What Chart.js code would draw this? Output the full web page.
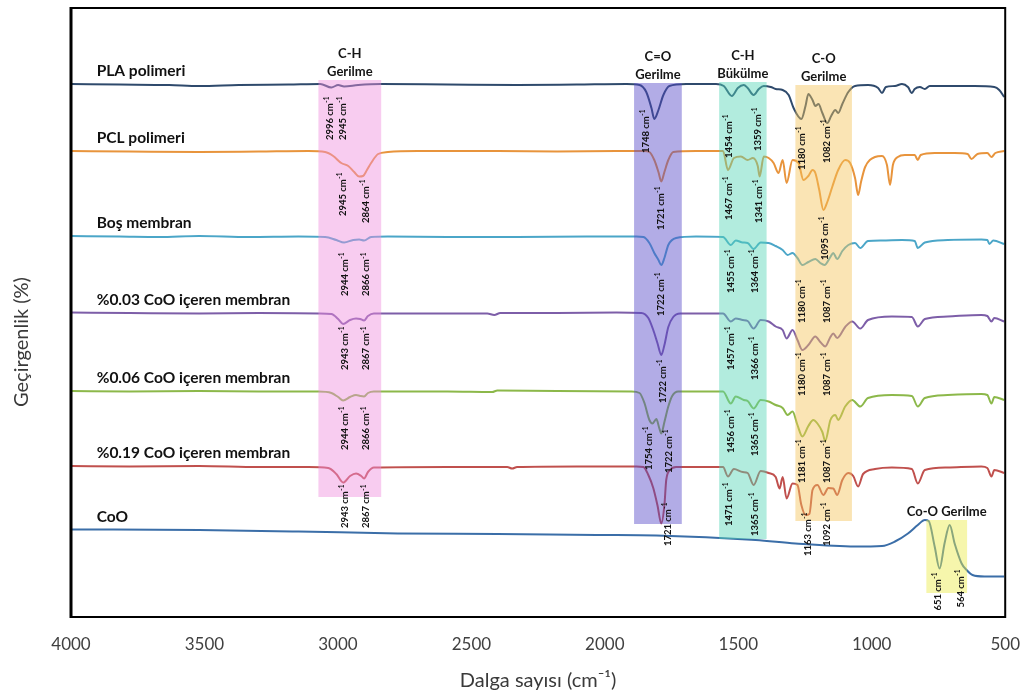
<!DOCTYPE html>
<html lang="tr">
<head>
<meta charset="utf-8">
<title>FTIR spektrumları</title>
<script src="https://cdn.jsdelivr.net/npm/chart.js@4.4.1/dist/chart.umd.min.js"></script>
<style>
  html, body { margin: 0; padding: 0; background: #fff; }
  #wrap { width: 1029px; height: 695px; }
</style>
</head>
<body>
<div id="wrap"><canvas id="ftirChart" width="1029" height="695"></canvas></div>
<script>
// tick labels of the wavenumber axis
const wavenumberTicks = [4000, 3500, 3000, 2500, 2000, 1500, 1000, 500];

const seriesNames = ['PLA polimeri', 'PCL polimeri', 'Boş membran', '%0.03 CoO içeren membran',
  '%0.06 CoO içeren membran', '%0.19 CoO içeren membran', 'CoO'];

// [wavenumber (cm-1), transmittance, stacked]
const plaSpectrum = [[4000,106.6],[3813,106.5],[3621,106.4],[3506,106.2],[3353,106.4],[3161,106.5],[3039,106.6],
  [2996,105.9],[2970,106.4],[2947,106.1],[2893,106.4],[2805,106.6],[2548,106.5],[2280,106.4],[2050,106.5],[1858,106.6],
  [1808,106.4],[1782,105.0],[1762,101.8],[1751,99.6],[1735,101.4],[1716,104.4],[1693,106.2],[1628,106.6],[1513,106.6],
  [1483,106.2],[1452,104.2],[1429,105.8],[1406,106.4],[1391,105.8],[1368,104.4],[1348,105.6],[1329,106.2],[1302,106.0],
  [1283,105.6],[1256,105.4],[1233,104.4],[1214,101.8],[1184,99.6],[1168,102.2],[1157,104.6],[1141,103.4],[1130,102.2],
  [1118,102.6],[1103,100.8],[1084,98.8],[1069,100.2],[1053,101.4],[1042,100.8],[1026,102.6],[1003,105.0],[977,106.2],
  [927,106.4],[888,105.8],[873,104.8],[858,106.0],[823,106.2],[796,106.6],[773,106.0],[758,104.8],[747,105.6],[727,106.0],
  [708,105.6],[689,106.2],[632,106.2],[517,106.2],[440,106.0],[421,105.4],[402,104.0]];

const pclSpectrum = [[4000,93.2],[3775,93.1],[3506,93.0],[3276,93.1],[3085,93.2],[3020,93.0],[2989,92.2],[2958,90.8],
  [2931,90.2],[2908,89.0],[2889,88.1],[2874,88.2],[2859,89.4],[2843,90.8],[2816,92.6],[2778,93.0],[2663,93.2],[2356,93.2],
  [2126,93.1],[1896,93.2],[1789,93.2],[1770,93.0],[1751,91.4],[1735,89.0],[1724,87.1],[1712,89.0],[1697,91.4],[1678,93.0],
  [1590,93.2],[1486,93.2],[1467,89.4],[1444,91.8],[1417,92.1],[1391,91.4],[1371,91.8],[1352,90.2],[1345,88.1],[1329,92.1],
  [1310,91.8],[1291,90.8],[1272,88.8],[1256,91.4],[1241,86.8],[1218,91.4],[1195,90.8],[1176,87.4],[1157,88.2],[1141,89.4],
  [1130,88.8],[1115,85.4],[1099,81.4],[1084,83.0],[1065,86.0],[1042,89.4],[1015,91.4],[996,90.8],[977,87.8],[965,84.4],
  [954,87.0],[938,90.0],[900,92.0],[873,92.2],[854,90.4],[842,86.4],[831,90.4],[812,92.0],[785,92.4],[747,92.4],[735,91.4],
  [724,92.4],[670,92.8],[593,92.8],[543,92.6],[528,91.6],[505,92.6],[467,92.8],[451,92.0],[436,92.8],[402,93.2]];

const bosSpectrum = [[4000,76.2],[3813,76.1],[3660,76.0],[3506,76.2],[3315,76.0],[3123,76.1],[3020,76.0],[2977,75.4],
  [2947,74.9],[2912,75.4],[2889,75.5],[2870,75.3],[2843,76.0],[2778,76.1],[2548,76.0],[2280,76.0],[2012,76.1],[1820,76.1],
  [1793,76.0],[1770,74.8],[1751,72.8],[1735,71.4],[1724,70.4],[1712,71.8],[1697,74.4],[1667,75.8],[1590,76.1],[1486,76.0],
  [1456,74.4],[1437,75.3],[1410,74.9],[1391,74.8],[1368,73.6],[1341,74.9],[1310,74.8],[1283,74.2],[1256,73.4],[1237,72.4],
  [1218,72.8],[1199,71.8],[1180,70.4],[1157,71.0],[1130,71.6],[1111,70.8],[1095,70.4],[1072,72.0],[1061,72.8],[1046,71.6],
  [1026,73.2],[1003,74.4],[977,74.8],[957,73.8],[927,75.2],[873,75.3],[796,75.4],[747,75.2],[735,73.8],[708,74.9],
  [620,75.4],[490,75.5],[467,75.4],[459,74.6],[444,75.3],[402,74.6]];

const coo003Spectrum = [[4000,60.9],[3775,60.8],[3506,60.7],[3276,60.8],[3046,60.7],[2996,60.6],[2970,59.6],[2951,58.6],
  [2924,59.4],[2901,59.7],[2885,59.6],[2870,59.3],[2855,60.2],[2832,60.7],[2740,60.7],[2395,60.7],[2368,60.4],[2345,60.8],
  [2126,60.8],[1896,60.9],[1801,60.8],[1774,59.8],[1755,57.4],[1739,54.8],[1724,52.4],[1712,54.4],[1697,58.0],[1678,60.0],
  [1651,60.7],[1486,60.7],[1456,59.1],[1437,59.7],[1410,59.4],[1391,59.2],[1368,57.7],[1341,59.4],[1310,59.1],[1283,58.1],
  [1256,57.4],[1241,55.7],[1218,57.4],[1199,55.4],[1180,53.4],[1157,54.4],[1130,56.1],[1111,55.0],[1092,54.1],[1072,56.0],
  [1061,56.7],[1046,55.8],[1015,58.0],[988,59.1],[957,57.7],[927,59.4],[835,60.1],[758,60.0],[735,58.1],[708,59.6],
  [620,60.1],[490,60.4],[467,60.2],[451,59.1],[440,59.8],[402,59.1]];

const coo006Spectrum = [[4000,45.2],[3775,45.1],[3506,45.2],[3276,45.1],[3046,45.1],[2996,44.8],[2970,44.0],[2951,43.3],
  [2924,44.0],[2901,44.4],[2885,44.2],[2870,44.1],[2855,44.8],[2832,45.1],[2548,45.1],[2376,45.0],[2356,45.3],[2126,45.2],
  [1839,45.1],[1808,44.8],[1789,42.8],[1770,39.4],[1758,38.7],[1743,39.6],[1732,37.8],[1724,36.7],[1712,39.0],[1697,42.1],
  [1682,44.2],[1659,45.1],[1486,45.1],[1456,42.7],[1437,44.1],[1406,43.4],[1391,43.2],[1368,41.7],[1341,43.4],[1310,43.1],
  [1283,42.4],[1256,41.8],[1237,40.4],[1218,41.1],[1199,38.4],[1180,36.1],[1157,38.2],[1138,39.4],[1122,38.7],[1103,37.0],
  [1092,35.2],[1072,39.4],[1053,40.4],[1042,39.4],[1015,42.1],[988,43.4],[957,42.1],[927,43.8],[835,44.4],[758,44.2],
  [735,42.1],[708,43.8],[620,44.4],[490,44.6],[467,44.4],[451,42.7],[440,44.0],[402,43.4]];

const coo019Spectrum = [[4000,30.2],[3775,30.1],[3506,30.2],[3276,30.0],[3085,30.0],[3008,29.8],[2977,28.6],[2951,26.9],
  [2924,28.2],[2901,28.7],[2881,28.2],[2870,27.7],[2855,29.0],[2832,29.9],[2548,30.0],[2318,30.0],[2299,29.7],[2280,30.0],
  [2050,30.1],[1820,30.1],[1793,30.0],[1774,28.4],[1755,25.8],[1739,22.4],[1724,18.7],[1712,22.4],[1705,27.4],[1690,29.4],
  [1667,30.0],[1486,30.0],[1467,28.1],[1444,29.6],[1410,29.0],[1391,28.8],[1368,26.4],[1341,29.2],[1310,28.8],[1283,28.0],
  [1268,25.7],[1256,28.0],[1241,23.7],[1218,26.7],[1199,26.4],[1184,22.4],[1168,20.4],[1153,20.6],[1141,25.4],[1122,26.4],
  [1099,24.4],[1080,25.8],[1061,25.7],[1046,24.4],[1026,27.4],[1003,28.8],[984,28.2],[965,26.1],[946,28.6],[900,29.6],
  [835,29.9],[758,29.6],[735,26.7],[708,29.4],[620,29.9],[490,30.1],[467,29.8],[451,28.1],[440,29.4],[402,28.8]];

const cooSpectrum = [[4000,17.5],[3506,17.4],[3123,17.1],[2740,16.7],[2356,16.6],[1973,16.4],[1743,16.3],[1360,15.4],
  [1207,14.7],[977,14.1],[873,14.2],[823,15.1],[773,16.7],[735,18.4],[708,19.4],[693,19.2],[670,14.1],[651,9.7],
  [632,14.7],[612,18.4],[593,14.7],[566,10.7],[547,9.4],[524,8.4],[478,8.1],[402,8.1]];

const spectra = [plaSpectrum, pclSpectrum, bosSpectrum, coo003Spectrum, coo006Spectrum, coo019Spectrum, cooSpectrum];

// highlighted vibration regions
const bandNames = [['C-H', 'Gerilme'], ['C=O', 'Gerilme'], ['C-H', 'Bükülme'], ['C-O', 'Gerilme'], ['Co-O Gerilme']];
const bandFrom = [3046, 1829, 1501, 1207, 702];
const bandTo = [2804, 1645, 1318, 989, 545];
const bandHigh = [107.4, 106.8, 107.0, 106.4, 19.4];
const bandLow = [24.0, 18.6, 15.6, 19.2, 4.8];

// peak labels: [label, where the text sits, top of text]
const peakMarks = [
  [2996,3000,104.0],[2945,2950,104.0],[1748,1782,101.4],[1454,1463,100.4],[1359,1353,101.8],[1180,1180,98.0],[1082,1084,99.4],
  [2945,2950,88.8],[2864,2862,87.4],[1721,1724,86.0],[1467,1465,88.0],[1341,1348,87.4],[1095,1092,80.0],
  [2944,2944,72.8],[2866,2861,72.8],[1722,1724,68.8],[1455,1456,73.4],[1364,1364,73.4],[1180,1180,67.4],[1087,1084,67.4],
  [2943,2944,58.0],[2867,2861,58.0],[1722,1717,51.4],[1457,1456,58.0],[1366,1364,56.0],[1180,1180,52.8],[1087,1084,52.8],
  [2944,2944,42.0],[2866,2861,42.0],[1754,1770,38.0],[1722,1693,37.4],[1456,1456,41.4],[1365,1364,40.8],[1181,1180,35.4],[1087,1084,35.4],
  [2943,2944,26.4],[2867,2861,26.4],[1721,1697,22.8],[1471,1465,26.8],[1365,1364,24.8],[1163,1157,20.8],[1092,1084,22.8],
  [651,659,8.8],[564,568,9.4]
];

const lineColors = ['#2f4a6c', '#e8943c', '#4ba6c8', '#7d5ea8', '#8cb84a', '#c0504d', '#3b6ea8'];
const bandColors = ['rgba(240,141,221,0.45)', 'rgba(84,72,200,0.45)', 'rgba(84,213,182,0.45)',
  'rgba(244,195,88,0.45)', 'rgba(236,236,70,0.45)'];

const labelPlugin = {
  id: 'ftirLabels',
  afterDatasetsDraw(chart) {
    const { ctx, chartArea } = chart;
    const xs = chart.scales.x;
    const ys = chart.scales.y;
    ctx.save();

    // shaded regions and their titles
    bandFrom.forEach((from, i) => {
      const x1 = xs.getPixelForValue(from);
      const x2 = xs.getPixelForValue(bandTo[i]);
      const y1 = ys.getPixelForValue(bandHigh[i]);
      const y2 = ys.getPixelForValue(bandLow[i]);
      ctx.fillStyle = bandColors[i];
      ctx.fillRect(x1, y1, x2 - x1, y2 - y1);
      ctx.fillStyle = '#151515';
      ctx.font = 'bold 13px Lato';
      ctx.textAlign = 'center';
      ctx.textBaseline = 'middle';
      const lines = bandNames[i];
      lines.forEach((t, k) => {
        ctx.fillText(t, (x1 + x2) / 2, y1 - 8 - (lines.length - 1 - k) * 18);
      });
    });

    // frame
    ctx.strokeStyle = '#000';
    ctx.lineWidth = 2;
    ctx.strokeRect(chartArea.left, chartArea.top, chartArea.right - chartArea.left, chartArea.bottom - chartArea.top);
    ctx.lineWidth = 3;
    ctx.beginPath();
    ctx.moveTo(chartArea.left, chartArea.top - 1);
    ctx.lineTo(chartArea.left, chartArea.bottom + 1);
    ctx.stroke();

    // series names, above the start of each trace
    ctx.fillStyle = '#111';
    ctx.font = 'bold 15.5px Lato';
    ctx.textAlign = 'left';
    ctx.textBaseline = 'middle';
    spectra.forEach((s, i) => {
      ctx.fillText(seriesNames[i], xs.getPixelForValue(3901), ys.getPixelForValue(s[0][1]) - 13);
    });

    // rotated peak labels
    peakMarks.forEach(([label, at, top]) => {
      const main = label + ' cm';
      ctx.save();
      ctx.translate(xs.getPixelForValue(at), ys.getPixelForValue(top));
      ctx.rotate(-Math.PI / 2);
      ctx.font = 'bold 9.5px Lato';
      const w1 = ctx.measureText(main).width;
      ctx.font = 'bold 6.5px Lato';
      const w2 = ctx.measureText('-1').width;
      const start = -(w1 + w2);
      ctx.textAlign = 'left';
      ctx.font = 'bold 9.5px Lato';
      ctx.fillText(main, start, 0);
      ctx.font = 'bold 6.5px Lato';
      ctx.fillText('-1', start + w1 + 0.5, -3);
      ctx.restore();
    });

    // y axis title
    ctx.save();
    ctx.translate(22, 342);
    ctx.rotate(-Math.PI / 2);
    ctx.fillStyle = '#3a3a3a';
    ctx.font = '20px Lato';
    ctx.textAlign = 'center';
    ctx.fillText('Geçirgenlik (%)', 0, 0);
    ctx.restore();

    ctx.restore();
  }
};

const datasets = spectra.map((s, i) => ({
  label: seriesNames[i],
  data: s.map(p => ({ x: p[0], y: p[1] })),
  borderColor: lineColors[i],
  borderWidth: 2,
  pointRadius: 0,
  cubicInterpolationMode: 'monotone',
  xAxisID: 'x',
  yAxisID: 'y'
}));

new Chart(document.getElementById('ftirChart'), {
  type: 'line',
  data: { datasets: datasets },
  options: {
    responsive: false,
    animation: false,
    layout: { padding: { top: 8, right: 18, left: 0, bottom: 0 } },
    plugins: { legend: { display: false }, tooltip: { enabled: false } },
    scales: {
      // data scale (the measured wavenumbers)
      x: {
        type: 'linear', min: 398, max: 4000, reverse: true, display: false
      },
      // printed wavenumber axis
      xTicks: {
        type: 'linear', position: 'bottom', min: 500, max: 4000, reverse: true,
        grid: { display: false }, border: { display: false },
        afterBuildTicks: scale => { scale.ticks = wavenumberTicks.map(v => ({ value: v })); },
        afterFit: scale => { scale.height = 78; },
        ticks: {
          color: '#404040', font: { family: 'Lato', size: 17 }, padding: 9, maxRotation: 0,
          callback: v => String(v)
        },
        title: {
          display: true, text: 'Dalga sayısı (cm⁻¹)', color: '#3a3a3a',
          font: { family: 'Lato', size: 20 }, padding: { top: 4, bottom: 2 }
        }
      },
      y: {
        type: 'linear', min: 0, max: 121.8, position: 'left',
        grid: { display: false }, border: { display: false },
        ticks: { display: false },
        afterFit: scale => { scale.width = 71; }
      }
    }
  },
  plugins: [labelPlugin]
});
</script>
</body>
</html>
